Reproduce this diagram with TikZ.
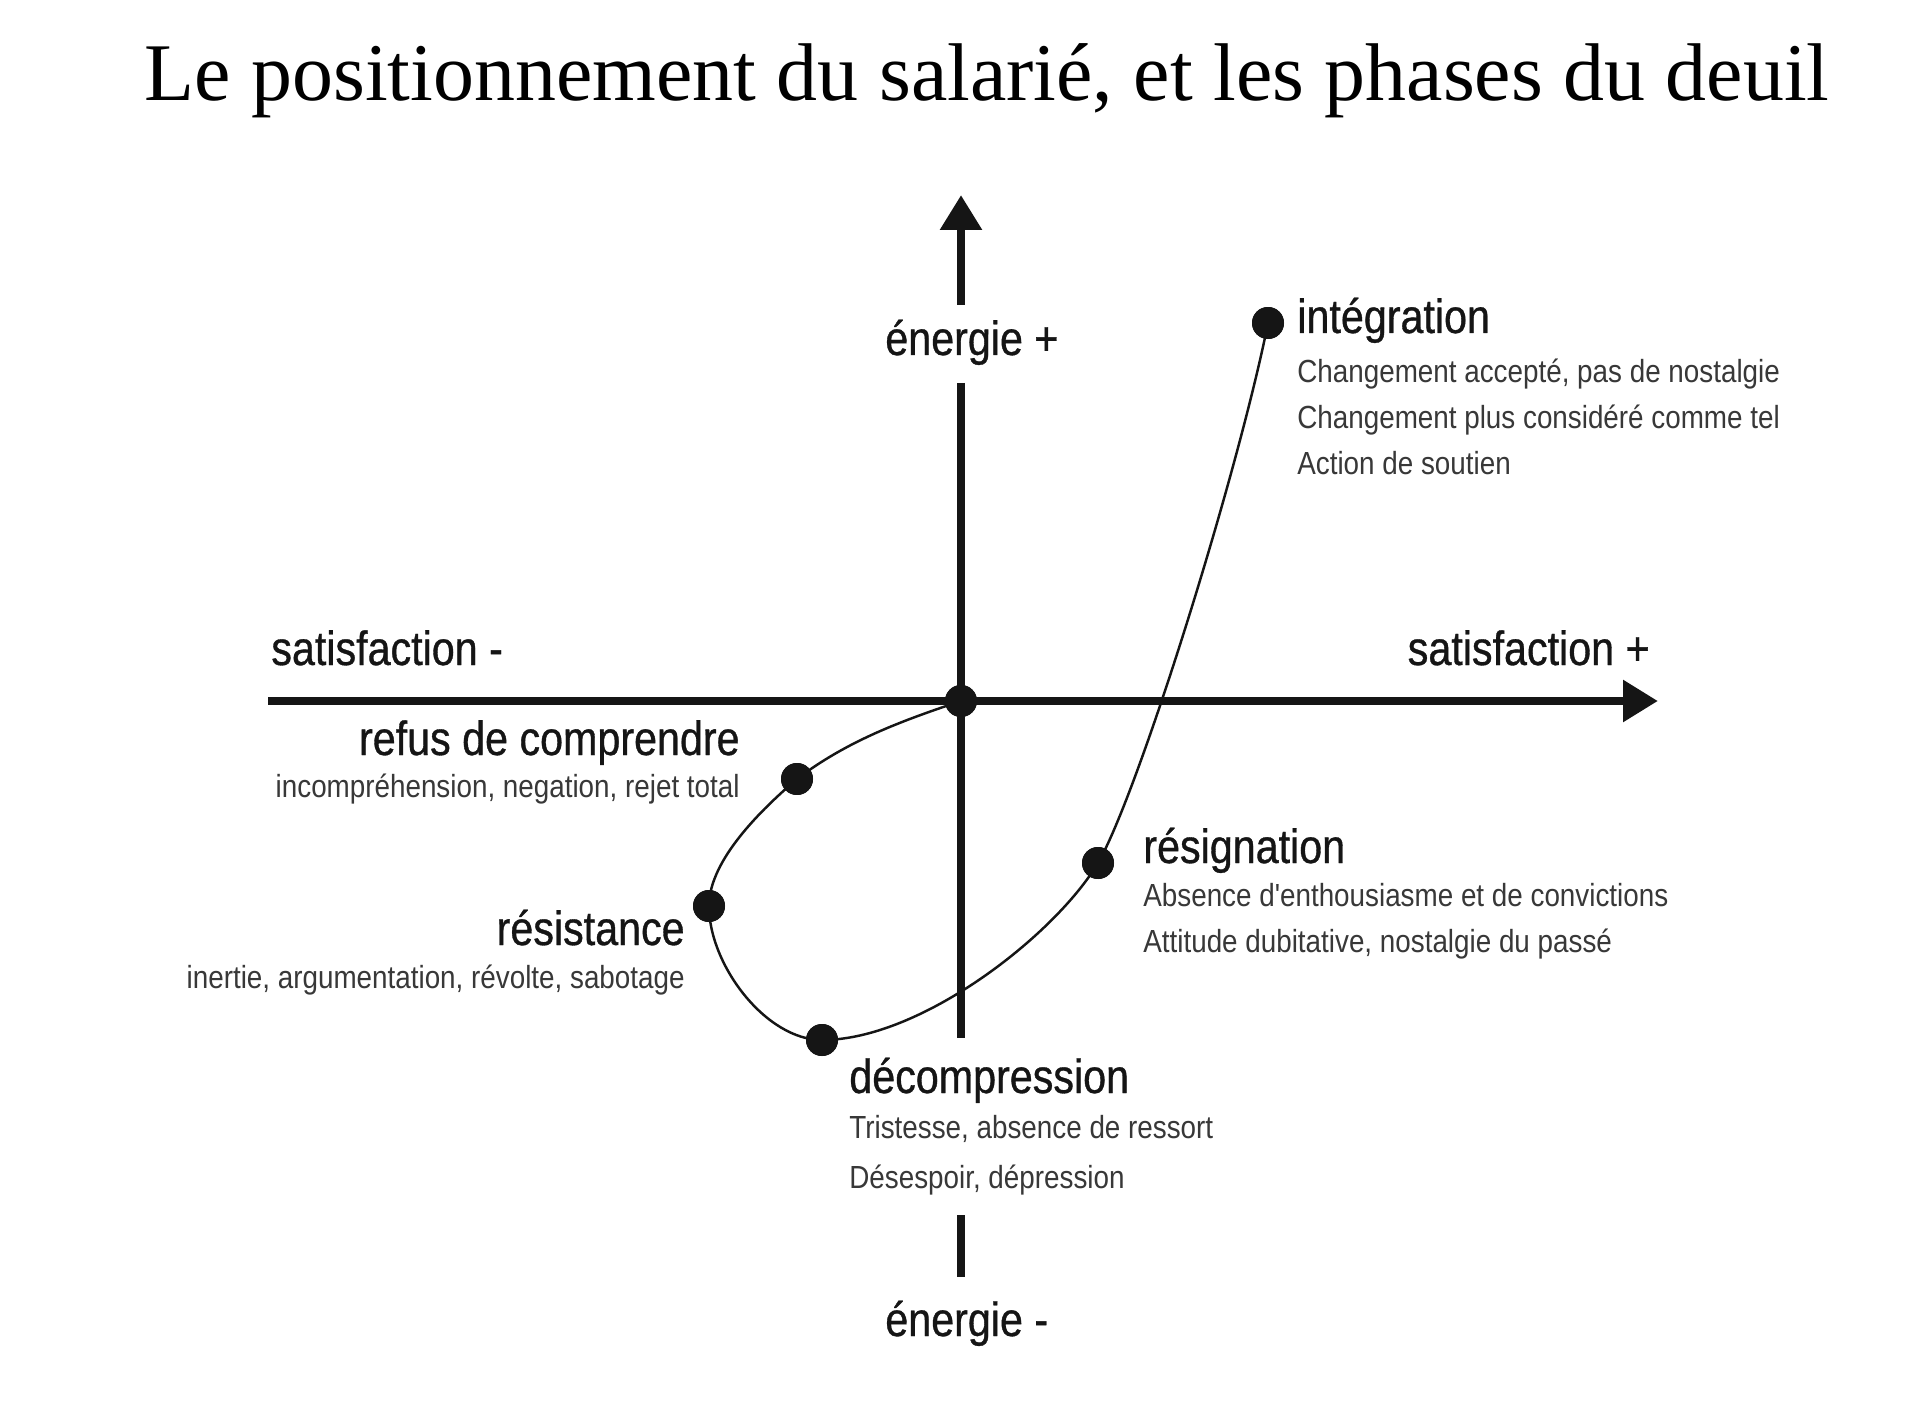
\documentclass[tikz,border=0pt]{standalone}
\usepackage{fontspec}
\usetikzlibrary{arrows.meta}
\newfontfamily\labfont[FakeStretch=0.86,FakeBold=0.7]{Liberation Sans}
\newfontfamily\subfont[FakeStretch=0.87]{Liberation Sans}
\newfontfamily\titlefont{Liberation Serif}
\definecolor{ink}{HTML}{151515}
\definecolor{subink}{HTML}{383838}
\begin{document}
\begin{tikzpicture}[x=0.02cm,y=-0.02cm,
  head/.style={inner sep=0pt, font=\fontsize{27.3pt}{30pt}\selectfont\labfont, text=ink},
  sub/.style={inner sep=0pt, font=\fontsize{18.2pt}{22pt}\selectfont\subfont, text=subink},
  titlestyle/.style={inner sep=0pt, font=\fontsize{46.6pt}{50pt}\selectfont\titlefont, text=black},
  axisline/.style={line width=5.1pt, draw=ink},
  tipped/.style={-{Triangle[length=0.7cm,width=0.8cm]}},
  dot/.style={circle, fill=ink, inner sep=0pt, minimum size=0.64cm},
  curve/.style={line width=1.4pt, draw=ink}
]
\useasboundingbox[fill=white] (0,0) rectangle (1920,1405);

% title
\node[titlestyle, anchor=base] (title) at (987,101) {Le positionnement du salarié, et les phases du deuil};

% axes coordinates
\coordinate (xl) at (268,701);
\coordinate (xr) at (1658,701);
\coordinate (vtip) at (961,195);
\coordinate (vtopend) at (961,305);
\coordinate (vmidtop) at (961,383);
\coordinate (vmidbot) at (961,1038);
\coordinate (vbottop) at (961,1215);
\coordinate (vbotbot) at (961,1277);

\draw[axisline, tipped] (xl) -- (xr);
\draw[axisline, tipped] (vtopend) -- (vtip);
\draw[axisline] (vmidtop) -- (vmidbot);
\draw[axisline] (vbottop) -- (vbotbot);

% axis labels
\node[head, anchor=base west] (eplus) at (885,355) {énergie +};
\node[head, anchor=base west] (emoins) at (885,1336) {énergie -};
\node[head, anchor=base west] (smoins) at (271,665) {satisfaction -};
\node[head, anchor=base east] (splus) at (1650,665) {satisfaction +};

% dots
\node[dot] (o) at (961,701) {};
\node[dot] (refus) at (797,779) {};
\node[dot] (resist) at (709,906) {};
\node[dot] (decomp) at (822,1040) {};
\node[dot] (resign) at (1098,863) {};
\node[dot] (integ) at (1268,323) {};

% curve
\draw[curve] (o.center) .. controls (901,721) and (847,741) .. (refus.center)
  .. controls (762,809) and (709,860) .. (resist.center)
  .. controls (709,965) and (766,1040) .. (decomp.center)
  .. controls (921,1040) and (1055,935) .. (resign.center)
  .. controls (1138,794) and (1238,473) .. (integ.center);
\foreach \d in {o,refus,resist,decomp,resign,integ} \node[dot] at (\d) {};

% phase labels
\node[head, anchor=base west] (tinteg) at (1297,333) {intégration};
\node[sub, anchor=base west] (sinteg1) at (1297,383) {Changement accepté, pas de nostalgie};
\node[sub, anchor=base west] (sinteg2) at (1297,429) {Changement plus considéré comme tel};
\node[sub, anchor=base west] (sinteg3) at (1297,475) {Action de soutien};

\node[head, anchor=base west] (tresign) at (1143,863) {résignation};
\node[sub, anchor=base west] (sresign1) at (1143,906) {Absence d'enthousiasme et de convictions};
\node[sub, anchor=base west] (sresign2) at (1143,952) {Attitude dubitative, nostalgie du passé};

\node[head, anchor=base west] (tdecomp) at (849,1093) {décompression};
\node[sub, anchor=base west] (sdecomp1) at (849,1138) {Tristesse, absence de ressort};
\node[sub, anchor=base west] (sdecomp2) at (849,1188) {Désespoir, dépression};

\node[head, anchor=base east] (trefus) at (740,755) {refus de comprendre};
\node[sub, anchor=base east] (srefus) at (740,797) {incompréhension, negation, rejet total};

\node[head, anchor=base east] (tresist) at (685,945) {résistance};
\node[sub, anchor=base east] (sresist) at (685,988) {inertie, argumentation, révolte, sabotage};
\end{tikzpicture}
\end{document}
